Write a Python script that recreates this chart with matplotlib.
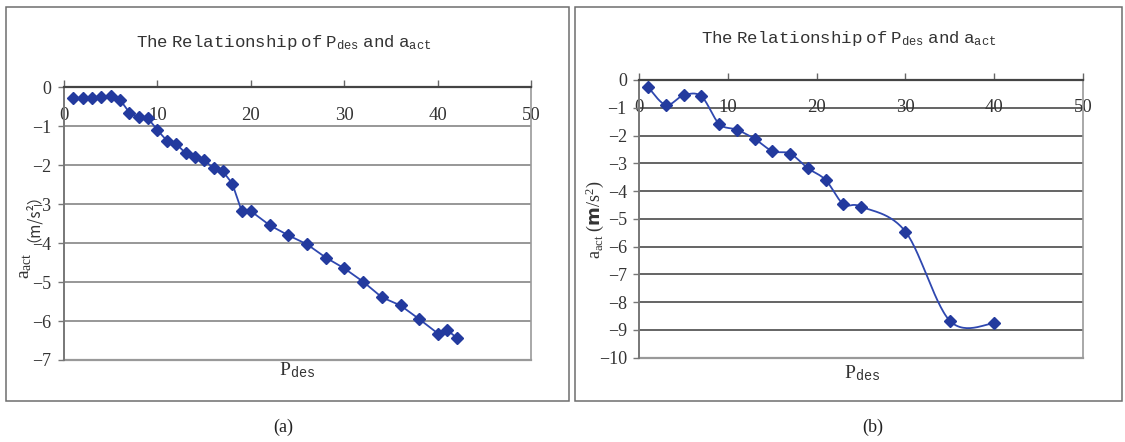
import numpy as np
import matplotlib
matplotlib.use("Agg")
import matplotlib.pyplot as plt
from matplotlib.patches import Rectangle

# ---- data ----
pa_x = [1, 2, 3, 4, 5, 6, 7, 8, 9, 10, 11, 12, 13, 14, 15, 16, 17, 18, 19, 20,
        22, 24, 26, 28, 30, 32, 34, 36, 38, 40, 41, 42]
pa_y = [-0.28, -0.27, -0.28, -0.26, -0.23, -0.32, -0.65, -0.77, -0.80, -1.10,
        -1.37, -1.45, -1.69, -1.78, -1.87, -2.08, -2.16, -2.47, -3.17, -3.18,
        -3.54, -3.80, -4.03, -4.37, -4.65, -4.99, -5.39, -5.60, -5.95, -6.32,
        -6.23, -6.43]
pb_x = [1, 3, 5, 7, 9, 11, 13, 15, 17, 19, 21, 23, 25, 30, 35, 40]
pb_y = [-0.26, -0.90, -0.55, -0.59, -1.58, -1.79, -2.12, -2.56, -2.65, -3.18,
        -3.60, -4.47, -4.56, -5.46, -8.67, -8.76]
x_ticks = [0, 10, 20, 30, 40, 50]
title = r'$\mathtt{The\ Relationship\ of\ P_{des}\ and\ a_{act}}$'

plt.rcParams['mathtext.fontset'] = 'custom'
plt.rcParams['mathtext.rm'] = 'Liberation Serif'
plt.rcParams['mathtext.it'] = 'Liberation Serif:italic'
plt.rcParams['mathtext.tt'] = 'Liberation Mono'
plt.rcParams['font.family'] = ['Liberation Serif', 'Noto Sans CJK SC', 'DejaVu Sans']

W, H = 1125, 442
fig = plt.figure(figsize=(W / 100, H / 100), dpi=100)


def fx(px):
    return px / W


def fy(py):
    return 1 - py / H


# panel boxes
for (x0, y0, x1, y1) in [(6, 7, 569, 401), (575, 7, 1122, 401)]:
    fig.patches.append(Rectangle((fx(x0), fy(y1)), fx(x1) - fx(x0), fy(y0) - fy(y1),
                                 transform=fig.transFigure, fill=False,
                                 edgecolor='#6e6e6e', lw=1.1, zorder=-5))


def catmull(xs, ys, n=30):
    P = np.column_stack([xs, ys]).astype(float)
    out = []
    m = len(P)
    for i in range(m - 1):
        p0 = P[i - 1] if i > 0 else P[i]
        p1 = P[i]
        p2 = P[i + 1]
        p3 = P[i + 2] if i + 2 < m else P[i + 1]
        b1 = p1 + (p2 - p0) / 6
        b2 = p2 - (p3 - p1) / 6
        t = np.linspace(0, 1, n)[:, None]
        seg = ((1 - t) ** 3) * p1 + 3 * ((1 - t) ** 2) * t * b1 + 3 * (1 - t) * t ** 2 * b2 + t ** 3 * p2
        out.append(seg if i == 0 else seg[1:])
    c = np.vstack(out)
    return c[:, 0], c[:, 1]


def setup(ax, ymin, gridcol):
    ax.set_xlim(0, 50)
    ax.set_ylim(ymin, 0)
    ax.set_facecolor('none')
    ax.set_xticks(x_ticks)
    ax.set_yticks(np.arange(ymin, 1, 1))
    ax.spines['bottom'].set_position(('data', 0))
    ax.spines['bottom'].set_color('#444444')
    ax.spines['bottom'].set_linewidth(1.6)
    ax.spines['top'].set_visible(False)
    ax.spines['left'].set_color('#777777')
    ax.spines['left'].set_linewidth(1.4)
    ax.spines['right'].set_color('#999999')
    ax.spines['right'].set_linewidth(1.2)
    ax.axhline(ymin, color='#999999', lw=1.6, clip_on=False, zorder=1)
    for v in range(ymin + 1, 0):
        ax.axhline(v, color=gridcol, lw=1.1, zorder=1)
    ax.tick_params(axis='x', direction='in', length=5, width=1, color='#666666',
                   pad=14, labelsize=13.5, labelcolor='#333333')
    ax.tick_params(axis='y', direction='out', length=4, width=1, color='#777777',
                   pad=5, labelsize=13, labelcolor='#333333')
    for lab in ax.get_xticklabels() + ax.get_yticklabels():
        lab.set_fontfamily('Liberation Serif')


# ---- panel (a) ----
axa = fig.add_axes([fx(64), fy(360), fx(531.4) - fx(64), fy(87.3) - fy(360)])
setup(axa, -7, '#7a7a7a')
axa.plot(pa_x, pa_y, color='#2f48b0', lw=1.3, marker='D', markersize=6.5,
         markerfacecolor='#233a9e', markeredgecolor='#233a9e', zorder=3)
fig.text(fx(284), fy(43), title, fontsize=12.5, ha='center', va='center', color='#333333')
fig.text(fx(297), fy(370), r'$\mathrm{P}_{\mathtt{des}}$', fontsize=14, ha='center', va='center', color='#333333')
fig.text(fx(26), fy(266), r'$\mathrm{a}_{\mathrm{act}}$', fontsize=14,
         rotation=90, ha='center', va='center', color='#333333')
fig.text(fx(25), fy(210), '（m/s²）', fontsize=11, family=['Noto Sans CJK SC', 'DejaVu Sans'],
         rotation=90, ha='center', va='center', color='#333333')
fig.text(fx(283), fy(427), '(a)', fontsize=13, ha='center', va='center', color='#222222')

# ---- panel (b) ----
axb = fig.add_axes([fx(639.3), fy(357.7), fx(1082.9) - fx(639.3), fy(80) - fy(357.7)])
setup(axb, -10, '#3a3a3a')
sx, sy = catmull(pb_x, pb_y)
axb.plot(sx, sy, color='#2f48b0', lw=1.3, zorder=3)
axb.plot(pb_x, pb_y, ls='none', marker='D', markersize=6.5,
         markerfacecolor='#233a9e', markeredgecolor='#233a9e', zorder=4)
fig.text(fx(849), fy(38), title, fontsize=12.5, ha='center', va='center', color='#333333')
fig.text(fx(862), fy(373), r'$\mathrm{P}_{\mathtt{des}}$', fontsize=14, ha='center', va='center', color='#333333')
fig.text(fx(595), fy(220), r'$\mathrm{a}_{\mathrm{act}}$' + r'$\ (\mathbf{m}/\mathrm{s}^{2})$', fontsize=13,
         rotation=90, ha='center', va='center', color='#333333')
fig.text(fx(873), fy(427), '(b)', fontsize=13, ha='center', va='center', color='#222222')

fig.savefig('out.png', dpi=100)
